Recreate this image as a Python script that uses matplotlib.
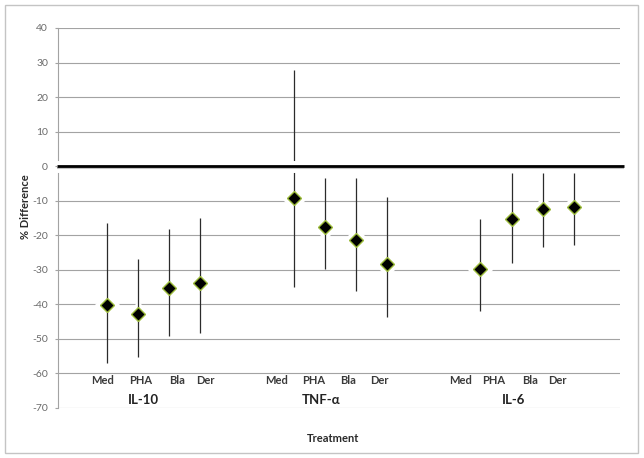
import numpy as np
import matplotlib.pyplot as plt
from matplotlib.patches import Rectangle

plt.rcParams['font.family'] = ['Lato', 'DejaVu Sans']
plt.rcParams['axes.unicode_minus'] = False

groups = ["IL-10", "TNF-α", "IL-6"]
treatments = ["Med", "PHA", "Bla", "Der"]

# % difference: centre, top and bottom of each bar
il10_mean = [-40.2, -42.8, -35.3, -33.8]
il10_high = [-16.5, -26.9, -18.2, -15.0]
il10_low = [-57.0, -55.2, -49.2, -48.3]

tnf_mean = [-9.1, -17.6, -21.5, -28.3]
tnf_high = [27.8, -3.5, -3.5, -8.8]
tnf_low = [-34.9, -29.8, -36.1, -43.7]

il6_mean = [-29.8, -15.2, -12.4, -11.8]
il6_high = [-15.3, -2.0, -2.0, -2.0]
il6_low = [-41.8, -28.1, -23.5, -22.9]

means = [il10_mean, tnf_mean, il6_mean]
highs = [il10_high, tnf_high, il6_high]
lows = [il10_low, tnf_low, il6_low]

# hand placed text boxes (layout only)
label_shift = [[-0.13, 0.09, 0.25, 0.18],
               [-0.53, -0.34, -0.25, -0.25],
               [-0.65, -0.56, -0.40, -0.53]]
group_shift = [-0.31, -0.62, -0.45]

fig = plt.figure(figsize=(6.44, 4.58), dpi=100)
ax = fig.add_axes([0.0908, 0.1092, 0.8727, 0.8297])

grid_col = '#a3a3a3'
for g in range(3):
    x = np.arange(4) + g * 6
    m = np.array(means[g])
    hi = np.array(highs[g])
    lo = np.array(lows[g])
    # white halo that breaks the gridlines
    ax.plot(x, m, 'D', ms=12, mfc='white', mec='white', ls='none', zorder=3)
    ax.vlines(x, lo, hi, color='#2b2b2b', lw=0.9, zorder=4)
    ax.plot(x, m, 'D', ms=7, mfc='black', mec='#9bbb3a', mew=1.0, ls='none', zorder=6)
    for i, t in enumerate(treatments):
        ax.text(x[i] + label_shift[g][i], -61.9, t, ha='center', va='center',
                fontsize=8, fontweight='bold', color='#3a3a3a')
    ax.text(x[1] + 0.5 + group_shift[g], -67.6, groups[g], ha='center', va='center',
            fontsize=9.5, fontweight='bold', color='#222222')

# thick zero line with white glow
ax.plot([-1.6, 16.6], [-0.3, -0.3], color='white', lw=8.6, zorder=5,
        clip_on=False, solid_capstyle='butt')
ax.plot([-1.6, 16.6], [-0.4, -0.4], color='#9a9a9a', lw=1.5, zorder=5,
        clip_on=False, solid_capstyle='butt', alpha=0.6)
ax.plot([-1.6, 16.6], [0, 0], color='black', lw=2.0, zorder=5.5,
        clip_on=False, solid_capstyle='butt')

ax.set_xlim(-1.55, 16.5)
ax.set_ylim(-70, 40)
ax.set_yticks(np.arange(-70, 41, 10))
ax.set_xticks([])
ax.yaxis.grid(True, color=grid_col, lw=0.8)
ax.set_axisbelow(True)
ax.tick_params(axis='y', length=2.5, width=0.8, color=grid_col,
               labelcolor='#6a6a6a', labelsize=7.5, pad=5)
for s in ['top', 'right', 'bottom']:
    ax.spines[s].set_visible(False)
ax.spines['left'].set_color(grid_col)
ax.spines['left'].set_linewidth(0.8)

fig.text(0.039, 0.548, "% Difference", rotation=90, ha='center', va='center',
         fontsize=8, fontweight='bold', color='#2a2a2a')
fig.text(0.517, 0.0415, "Treatment", ha='center', va='center',
         fontsize=8, fontweight='bold', color='#2a2a2a')

fig.patches.append(Rectangle((4.5 / 644, 1 - 453 / 458), 633 / 644, 448.5 / 458,
                             transform=fig.transFigure, fill=False,
                             edgecolor='#c4c4c4', lw=1.0))

fig.savefig('out.png', dpi=100)
